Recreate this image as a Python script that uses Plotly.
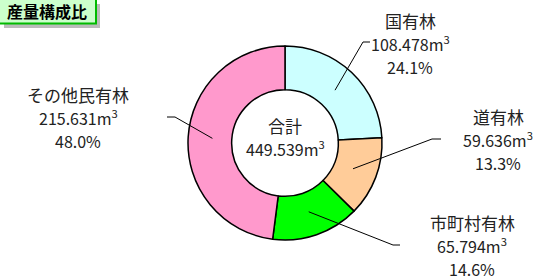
import math
import plotly.graph_objects as go

# ---- data ----
labels = ["国有林", "道有林", "市町村有林", "その他民有林"]
volumes = [108.478, 59.636, 65.794, 215.631]
percents = ["24.1%", "13.3%", "14.6%", "48.0%"]
total_text = "449.539"
colors = ["#CCFFFF", "#FFCC99", "#00FF00", "#FF99CC"]
title_text = "産量構成比"

W, H = 542, 278
CX, CY, R = 285, 143, 97

def px(x):
    return x / W

def py(y):
    return 1 - y / H

FONT = "Noto Sans CJK JP, sans-serif"
TC = "#222222"

fig = go.Figure(go.Pie(
    labels=labels, values=volumes, sort=False, direction="clockwise", rotation=0,
    hole=0.55, marker=dict(colors=colors, line=dict(color="#000000", width=1.5)),
    textinfo="none", hoverinfo="label+value", showlegend=False,
    domain=dict(x=[px(CX - R), px(CX + R)], y=[py(CY + R), py(CY - R)]),
))

# leader lines: anchor computed from slice mid-angles
tot = sum(volumes)
elbows = [((363, 42), (370, 42)), ((432, 139), (441, 139)),
          ((393, 245), (400, 245)), ((175, 117), (167, 117))]
label_pos = [(410, 20), (498, 116), (472, 222), (78, 94)]
shapes = []
cum = 0
for i, v in enumerate(volumes):
    mid = (cum + v / 2) / tot * 2 * math.pi
    cum += v
    r = 0.75 * R
    ax, ay = CX + r * math.sin(mid), CY - r * math.cos(mid)
    (ex, ey), (hx, hy) = elbows[i]
    path = f"M {px(ax)} {py(ay)} L {px(ex)} {py(ey)} L {px(hx)} {py(hy)}"
    shapes.append(dict(type="path", path=path, xref="paper", yref="paper",
                       line=dict(color="#000000", width=1)))

annotations = []
for i, lab in enumerate(labels):
    lx, ly = label_pos[i]
    lines = [lab, f"{volumes[i]:.3f}m<sup>3</sup>", percents[i]]
    for j, t in enumerate(lines):
        annotations.append(dict(x=px(lx), y=py(ly + 23.5 * j), xref="paper", yref="paper",
                                text=t, showarrow=False, xanchor="center", yanchor="middle",
                                font=dict(family=FONT, size=17 if j == 0 else 16, color=TC)))

# center text
annotations.append(dict(x=px(CX), y=py(125), xref="paper", yref="paper", text="合計",
                        showarrow=False, font=dict(family=FONT, size=17, color=TC)))
annotations.append(dict(x=px(CX), y=py(148), xref="paper", yref="paper",
                        text=f"{total_text}m<sup>3</sup>",
                        showarrow=False, font=dict(family=FONT, size=16, color=TC)))

# title box with shadow
shapes.insert(0, dict(type="rect", xref="paper", yref="paper", x0=px(4), x1=px(100),
                      y0=py(28), y1=py(4), fillcolor="#BBBBBB", line=dict(width=0)))
shapes.insert(1, dict(type="rect", xref="paper", yref="paper", x0=px(-2), x1=px(96),
                      y0=py(23.5), y1=py(-2), fillcolor="#CCFFCC",
                      line=dict(color="#00BB00", width=2)))
annotations.append(dict(x=px(47), y=py(11.5), xref="paper", yref="paper", text=f"<b>{title_text}</b>",
                        showarrow=False, xanchor="center", yanchor="middle",
                        font=dict(family=FONT, size=16, color="#000000")))

fig.update_layout(
    width=W, height=H, margin=dict(l=0, r=0, t=0, b=0),
    paper_bgcolor="#FFFFFF", plot_bgcolor="#FFFFFF",
    shapes=shapes, annotations=annotations,
)
fig.write_html("out.html", config={"displayModeBar": False},
               post_script="document.body.style.margin='0';")
